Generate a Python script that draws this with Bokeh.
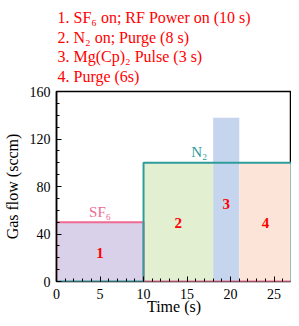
from bokeh.plotting import figure
from bokeh.models import Title, FixedTicker, Range1d, Label
from bokeh.core.properties import value
from bokeh.embed import file_html
from bokeh.resources import INLINE

# Data
steps = ["1", "2", "3", "4"]
step_start = [0, 10, 18, 21]
step_end = [10, 18, 21, 27]
step_height = [50, 100, 138, 100]
step_colors = ["#d9d1ea", "#e2efd1", "#c6d5ee", "#fce5d8"]
label_y = [24, 49, 65, 49]

sf6_t = [0, 0, 10, 10, 27]
sf6_flow = [0, 50, 50, 0, 0]
n2_t = [0, 10, 10, 27, 27]
n2_flow = [0, 0, 100, 100, 0]

legend_lines = [
    "1. SF\u2086 on; RF Power on (10 s)",
    "2. N\u2082 on; Purge (8 s)",
    "3. Mg(Cp)\u2082 Pulse (3 s)",
    "4. Purge (6s)",
]
x_ticks = [0, 5, 10, 15, 20, 25]
y_ticks = [0, 40, 80, 120, 160]

FONT = "Liberation Serif"
PINK = "#f06a93"
TEAL = "#2f9c9c"

p = figure(width=291, height=317, output_backend="svg", toolbar_location=None,
           x_range=Range1d(0, 27), y_range=Range1d(0, 160),
           min_border_left=49, min_border_right=0, min_border_bottom=10, min_border_top=4)
p.title.visible = False
p.grid.visible = False
p.outline_line_color = "black"
p.outline_line_width = 1.5

# Fills
p.quad(left=step_start, right=step_end, bottom=0, top=step_height,
       fill_color=step_colors, line_color=None)

# Lines
p.line(sf6_t, sf6_flow, line_color=PINK, line_width=2)
p.line(n2_t, n2_flow, line_color=TEAL, line_width=2)

# Step labels
mid = [(a + b) / 2 for a, b in zip(step_start, step_end)]
p.text(x=mid, y=label_y, text=steps, text_font=value(FONT), text_font_style="bold",
       text_font_size="15px", text_color="red", text_align="center", text_baseline="middle")

p.add_layout(Label(x=5, y=52, text="SF\u2086", text_font=FONT, text_font_size="15px",
                   text_color=PINK, text_align="center", text_baseline="bottom"))
p.add_layout(Label(x=16.4, y=102, text="N\u2082", text_font=FONT, text_font_size="15px",
                   text_color=TEAL, text_align="center", text_baseline="bottom"))

# Axes
p.xaxis.ticker = FixedTicker(ticks=x_ticks, minor_ticks=list(range(0, 28)))
p.yaxis.ticker = FixedTicker(ticks=y_ticks, minor_ticks=list(range(0, 161, 10)))
for ax in (p.xaxis[0], p.yaxis[0]):
    ax.major_tick_in = 5
    ax.major_tick_out = 0
    ax.minor_tick_in = 3
    ax.minor_tick_out = 0
    ax.axis_line_color = "black"
    ax.axis_line_width = 1.5
    ax.major_tick_line_color = "black"
    ax.minor_tick_line_color = "black"
    ax.major_label_text_font = FONT
    ax.major_label_text_font_size = "14px"
    ax.major_label_text_color = "black"
    ax.axis_label_text_font = FONT
    ax.axis_label_text_font_size = "16px"
    ax.axis_label_text_font_style = "normal"
    ax.axis_label_text_color = "black"
    ax.major_label_standoff = 6
    ax.axis_label_standoff = 6
p.yaxis.axis_label = "Gas flow (sccm)"
p.xaxis.axis_label = "Time (s)"
p.xaxis.major_label_standoff = 7
p.xaxis.axis_label_standoff = -4
p.xaxis.axis_line_color = None

# Header text
p.add_layout(Title(text="\n".join(legend_lines), text_font=FONT, text_font_size="16px",
                   text_color="red", text_font_style="normal", align="left",
                   offset=1, standoff=13, text_line_height=1.15), "above")

open("out.html", "w").write(file_html(p, INLINE))
